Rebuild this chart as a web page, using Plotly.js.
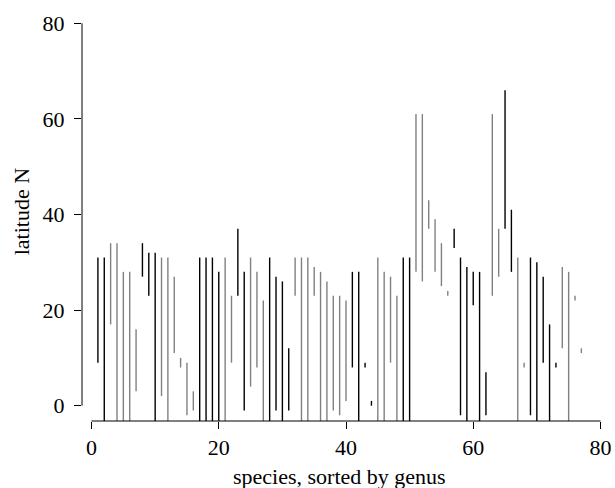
<!DOCTYPE html>
<html>
<head>
<meta charset="utf-8">
<script src="https://cdn.plot.ly/plotly-3.0.1.min.js"></script>
<style>html,body{margin:0;padding:0;background:#fff;} #chart{width:615px;height:488px;}</style>
</head>
<body>
<div id="chart"></div>
<script>
// species index (sorted by genus)
var species = [1,2,3,4,5,6,7,8,9,10,11,12,13,14,15,16,17,18,19,20,
  21,22,23,24,25,26,27,28,29,30,31,32,33,34,35,36,37,38,39,40,
  41,42,43,44,45,46,47,48,49,50,51,52,53,54,55,56,57,58,59,60,
  61,62,63,64,65,66,67,68,69,70,71,72,73,74,75,76,77];
// southern limit of latitude range (values below the plotted area are cut off)
var latMin = [9,-5,17,-5,-5,-5,3,27,23,-5,2,-5,11,8,-2,-1,-5,-5,-5,-5,
  -5,9,23,-1,4,8,-5,-5,-1,-5,-1,23,-5,-5,23,-5,-5,-1,-2,1,
  8,-5,8,0,-5,-5,9,-5,-5,-5,28,26,37,28,25,23,33,-2,-5,21,
  -5,-2,23,27,37,28,-5,8,-2,-5,9,-5,8,12,-5,22,11];
// northern limit of latitude range
var latMax = [31,31,34,34,28,28,16,34,32,32,31,31,27,10,9,3,31,31,31,28,
  31,23,37,28,31,28,22,31,27,26,12,31,31,31,29,28,26,23,23,22,
  28,28,9,1,31,28,27,23,31,31,61,61,43,39,34,24,37,31,29,28,
  28,7,61,37,66,41,31,9,31,30,27,17,9,29,28,23,12];
// genus group shading: 0 = black, 1 = grey (alternating by genus)
var genusShade = [0,0,1,1,1,1,1,0,0,0,1,1,1,1,1,1,0,0,0,0,
  1,1,0,0,1,1,1,0,0,0,0,1,1,1,1,1,1,1,1,1,
  0,0,0,0,1,1,1,1,0,0,1,1,1,1,1,1,0,0,0,0,
  0,0,1,1,0,0,1,1,0,0,0,0,0,1,1,1,1];
var xTicks = [0,20,40,60,80];
var yTicks = [0,20,40,60,80];

var colors = ['#000000', '#808080'];
var traces = [0,1].map(function(shade){
  var xs = [], ys = [];
  for (var k = 0; k < species.length; k++) {
    if (genusShade[k] !== shade) continue;
    xs.push(species[k], species[k], null);
    ys.push(latMin[k], latMax[k], null);
  }
  return {x: xs, y: ys, type: 'scatter', mode: 'lines',
    line: {color: colors[shade], width: 1.4}, hoverinfo: 'skip', showlegend: false};
});

var font = {family: 'Liberation Serif, Times New Roman, serif', size: 22, color: '#000'};
var layout = {
  width: 615, height: 488,
  margin: {l: 82, r: 5, t: 8, b: 67},
  paper_bgcolor: '#fff', plot_bgcolor: '#fff',
  font: font,
  showlegend: false,
  xaxis: {range: [-1.5, 81.5], tickvals: xTicks, ticktext: xTicks.map(String),
    ticks: 'outside', ticklen: 7, tickwidth: 1, tickcolor: '#000',
    showline: false, showgrid: false, zeroline: false, tickfont: font, fixedrange: true},
  yaxis: {range: [-3.2, 83.2], tickvals: yTicks, ticktext: yTicks.map(String),
    ticks: 'outside', ticklen: 7, tickwidth: 1, tickcolor: '#000', ticklabelstandoff: 5,
    showline: false, showgrid: false, zeroline: false, tickfont: font, fixedrange: true},
  shapes: [
    {type: 'line', xref: 'paper', yref: 'y', x0: 0, x1: 0, y0: 0, y1: 80, line: {color: '#000', width: 1}},
    {type: 'line', xref: 'x', yref: 'paper', x0: 0, x1: 80, y0: 0, y1: 0, line: {color: '#000', width: 1}}
  ],
  annotations: [
    {text: 'species, sorted by genus', xref: 'paper', yref: 'paper', x: 0.487, y: -0.135,
      xanchor: 'center', yanchor: 'middle', showarrow: false, font: font},
    {text: 'latitude N', xref: 'paper', yref: 'paper', x: -0.115, y: 0.506, textangle: -90,
      xanchor: 'center', yanchor: 'middle', showarrow: false, font: font}
  ]
};
Plotly.newPlot('chart', traces, layout, {displayModeBar: false, staticPlot: true});
</script>
</body>
</html>
